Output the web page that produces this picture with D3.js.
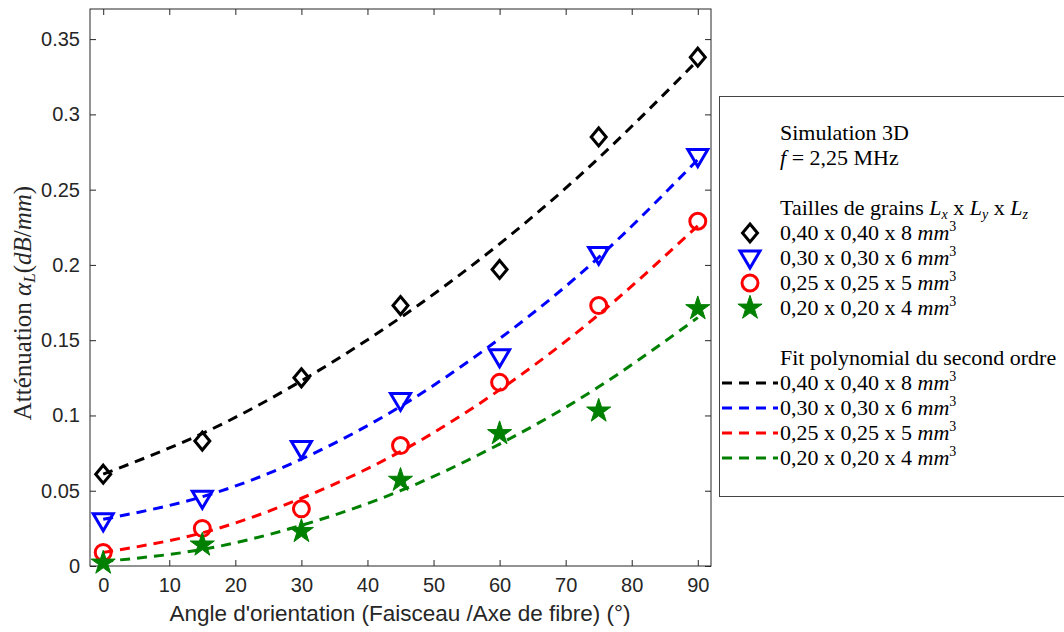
<!DOCTYPE html>
<html><head><meta charset="utf-8">
<script src="https://cdn.jsdelivr.net/npm/d3@7"></script>
<style>body{margin:0;background:#fff}svg{display:block}</style>
</head><body><svg id="c" width="1064" height="632"></svg>
<script>
const angles = [0, 15, 30, 45, 60, 75, 90];
const seriesNames = ["0,40 x 0,40 x 8", "0,30 x 0,30 x 6", "0,25 x 0,25 x 5", "0,20 x 0,20 x 4"];
const colors = ["#000000", "#0000ff", "#ff0000", "#008000"];
const markers = ["diamond", "triangle", "circle", "star"];
const sim040 = [0.061, 0.083, 0.125, 0.173, 0.197, 0.285, 0.338];
const sim030 = [0.030, 0.045, 0.078, 0.110, 0.139, 0.207, 0.272];
const sim025 = [0.009, 0.025, 0.038, 0.080, 0.122, 0.173, 0.229];
const sim020 = [0.002, 0.014, 0.023, 0.057, 0.088, 0.103, 0.171];
const fit040 = [0.061, 0.088, 0.123, 0.165, 0.214, 0.271, 0.336];
const fit030 = [0.031, 0.046, 0.071, 0.106, 0.151, 0.205, 0.270];
const fit025 = [0.009, 0.022, 0.045, 0.076, 0.117, 0.167, 0.226];
const fit020 = [0.003, 0.011, 0.027, 0.050, 0.081, 0.119, 0.165];
const xTicks = [0, 10, 20, 30, 40, 50, 60, 70, 80, 90];
const yTicks = [0, 0.05, 0.1, 0.15, 0.2, 0.25, 0.3, 0.35];

const sims = [sim040, sim030, sim025, sim020];
const fits = [fit040, fit030, fit025, fit020];

const svg = d3.select("#c");
const L = 90, R = 711, T = 9, B = 566;
const x = d3.scaleLinear().domain([-2, 92]).range([L, R]);
const y = d3.scaleLinear().domain([0, 0.37]).range([B, T]);
const axisCol = "#262626";
const sansFont = "'Liberation Sans', Arial, sans-serif";
const serifFont = "'Liberation Serif', 'DejaVu Serif', serif";

// axes
const gx = svg.append("g").attr("transform", `translate(0,${B})`)
  .call(d3.axisBottom(x).tickValues(xTicks).tickSize(-6).tickPadding(12).tickFormat(d3.format("d")));
const gxt = svg.append("g").attr("transform", `translate(0,${T})`)
  .call(d3.axisTop(x).tickValues(xTicks).tickSize(-6).tickFormat(""));
const gy = svg.append("g").attr("transform", `translate(${L},0)`)
  .call(d3.axisLeft(y).tickValues(yTicks).tickSize(-6).tickPadding(10).tickFormat(d => d === 0 ? "0" : String(+d.toFixed(2))));
const gyr = svg.append("g").attr("transform", `translate(${R},0)`)
  .call(d3.axisRight(y).tickValues(yTicks).tickSize(-6).tickFormat(""));
[gx, gxt, gy, gyr].forEach(g => {
  g.select(".domain").remove();
  g.selectAll("line").attr("stroke", axisCol);
  g.selectAll("text").attr("fill", axisCol).style("font-family", sansFont).style("font-size", "20px");
});
svg.append("rect").attr("x", L).attr("y", T).attr("width", R - L).attr("height", B - T)
  .attr("fill", "none").attr("stroke", "#262626").attr("stroke-width", 1);

// axis titles
svg.append("text").attr("x", 400).attr("y", 621).attr("text-anchor", "middle")
  .attr("fill", axisCol).style("font-family", sansFont).style("font-size", "22.5px")
  .text("Angle d'orientation (Faisceau /Axe de fibre) (°)");
const yl = svg.append("text").attr("transform", "translate(31,303) rotate(-90)").attr("text-anchor", "middle")
  .attr("fill", axisCol).style("font-family", serifFont).style("font-size", "25px");
yl.append("tspan").text("Atténuation ");
yl.append("tspan").style("font-style", "italic").text("α");
yl.append("tspan").style("font-style", "italic").style("font-size", "17px").attr("dy", 4).text("L");
yl.append("tspan").attr("dy", -4).text("(");
yl.append("tspan").style("font-style", "italic").text("dB");
yl.append("tspan").text("/");
yl.append("tspan").style("font-style", "italic").text("mm");
yl.append("tspan").text(")");

// marker shapes
function markerPath(type) {
  if (type === "diamond") return "M0,-9L7.5,0L0,9L-7.5,0Z";
  if (type === "triangle") return "M-10,-7L10,-7L0,10Z";
  if (type === "circle") return d3.symbol(d3.symbolCircle, 200)();
  return d3.symbol(d3.symbolStar, 180)();
}
function drawMarker(g, type, color) {
  const p = g.append("path").attr("d", markerPath(type));
  if (type === "star") p.attr("fill", color).attr("stroke", color).attr("stroke-width", 1);
  else p.attr("fill", "none").attr("stroke", color).attr("stroke-width", 3);
}

// fit lines
const line = d3.line().x((d, i) => x(angles[i])).y(d => y(d)).curve(d3.curveNatural);
fits.forEach((f, k) => {
  svg.append("path").attr("d", line(f)).attr("fill", "none").attr("stroke", colors[k])
    .attr("stroke-width", 3).attr("stroke-dasharray", "10,7");
});
// markers
sims.forEach((s, k) => {
  s.forEach((v, i) => {
    const g = svg.append("g").attr("transform", `translate(${x(angles[i])},${y(v)})`);
    drawMarker(g, markers[k], colors[k]);
  });
});

// legend
const lg = svg.append("g");
lg.append("rect").attr("x", 719.5).attr("y", 96.5).attr("width", 400).attr("height", 400)
  .attr("fill", "#fff").attr("stroke", "#444").attr("stroke-width", 1);
const tx = 780, fs = "22px";
function ltext(yy) {
  return lg.append("text").attr("x", tx).attr("y", yy).attr("fill", "#000")
    .style("font-family", serifFont).style("font-size", fs);
}
function mm3(t) {
  t.append("tspan").style("font-style", "italic").text(" mm");
  t.append("tspan").style("font-size", "14px").attr("dy", -9).text("3");
}
ltext(140).text("Simulation 3D");
const f1 = ltext(165);
f1.append("tspan").style("font-style", "italic").text("f");
f1.append("tspan").text(" = 2,25 MHz");
const t2 = ltext(215);
t2.append("tspan").text("Tailles de grains ");
[["x", " x "], ["y", " x "], ["z", ""]].forEach(([sub, after]) => {
  t2.append("tspan").style("font-style", "italic").text("L");
  t2.append("tspan").style("font-style", "italic").style("font-size", "14px").attr("dy", 4).text(sub);
  t2.append("tspan").attr("dy", -4).text(after);
});
seriesNames.forEach((nm, k) => {
  const yy = 240 + k * 25;
  const g = lg.append("g").attr("transform", `translate(750,${yy - 7})`);
  drawMarker(g, markers[k], colors[k]);
  const t = ltext(yy); t.append("tspan").text(nm); mm3(t);
});
ltext(365).text("Fit polynomial du second ordre");
seriesNames.forEach((nm, k) => {
  const yy = 390 + k * 25;
  lg.append("line").attr("x1", 722).attr("x2", 778).attr("y1", yy - 7).attr("y2", yy - 7)
    .attr("stroke", colors[k]).attr("stroke-width", 3).attr("stroke-dasharray", "10,7");
  const t = ltext(yy); t.append("tspan").text(nm); mm3(t);
});
</script></body></html>
